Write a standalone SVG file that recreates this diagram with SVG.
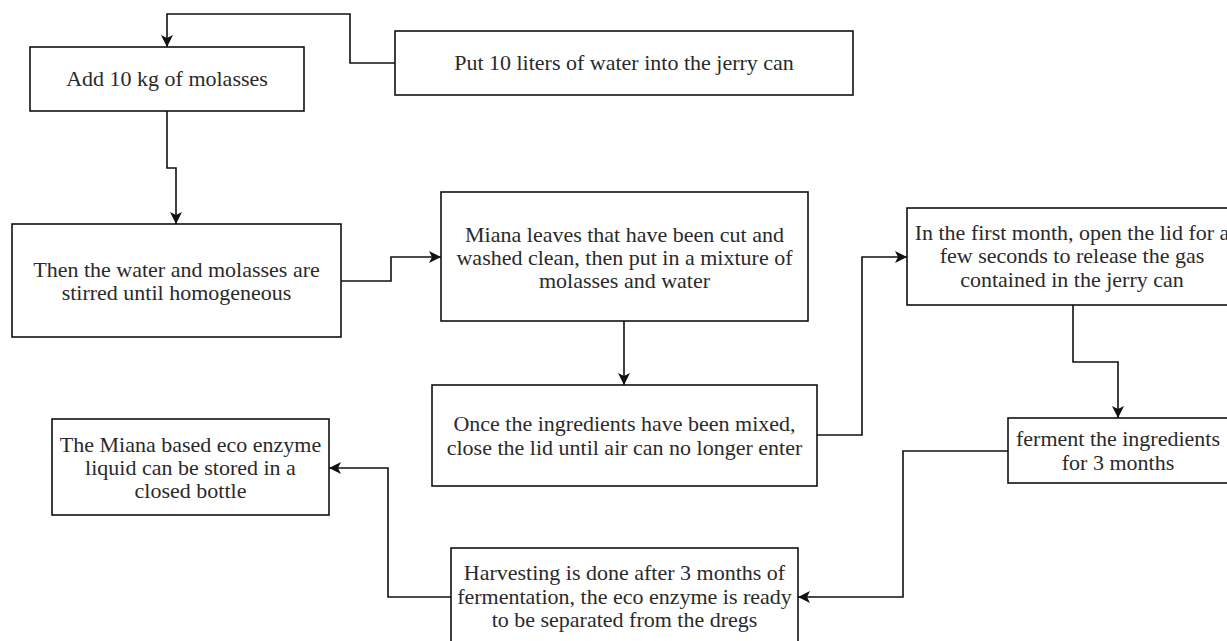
<svg xmlns="http://www.w3.org/2000/svg" width="1227" height="641" viewBox="0 0 1227 641">
<style>
  .box { fill: #ffffff; stroke: #111111; stroke-width: 1.6; }
  .lbl { font-family: "Liberation Serif", "Times New Roman", serif; font-size: 22px; fill: #2a2a2a; text-anchor: middle; }
  .edge { fill: none; stroke: #111111; stroke-width: 1.6; marker-end: url(#arrow); }
</style>
<defs>
  <marker id="arrow" markerUnits="userSpaceOnUse" markerWidth="14" markerHeight="14" viewBox="0 0 14 14" refX="13" refY="7" orient="auto">
    <path d="M1,1 L13,7 L1,13 L4,7 Z" fill="#111111"/>
  </marker>
</defs>
<rect width="1227" height="641" fill="#ffffff"/>

<g id="connectors">
  <path class="edge" d="M395,63 H350 V14 H167 V47"/>
  <path class="edge" d="M167,111 V168 H176 V224"/>
  <path class="edge" d="M341,281 H391 V257 H441"/>
  <path class="edge" d="M624,321 V385"/>
  <path class="edge" d="M817,435 H862 V257 H907"/>
  <path class="edge" d="M1073,305 V362 H1118 V418"/>
  <path class="edge" d="M1008,451 H903 V597 H798"/>
  <path class="edge" d="M451,597 H388 V468 H329"/>
</g>

<g id="node-add-molasses">
  <rect class="box" x="30" y="47" width="274" height="64"/>
  <text class="lbl" x="167" y="86">Add 10 kg of molasses</text>
</g>

<g id="node-put-water">
  <rect class="box" x="395" y="31" width="458" height="64"/>
  <text class="lbl" x="624" y="70">Put 10 liters of water into the jerry can</text>
</g>

<g id="node-stir">
  <rect class="box" x="12" y="224" width="329" height="113"/>
  <text class="lbl" x="176.5" y="277">Then the water and molasses are</text>
  <text class="lbl" x="176.5" y="300">stirred until homogeneous</text>
</g>

<g id="node-miana-leaves">
  <rect class="box" x="441" y="192" width="367" height="129"/>
  <text class="lbl" x="624.5" y="242">Miana leaves that have been cut and</text>
  <text class="lbl" x="624.5" y="265">washed clean, then put in a mixture of</text>
  <text class="lbl" x="624.5" y="288">molasses and water</text>
</g>

<g id="node-close-lid">
  <rect class="box" x="432" y="385" width="385" height="101"/>
  <text class="lbl" x="624.5" y="431">Once the ingredients have been mixed,</text>
  <text class="lbl" x="624.5" y="455">close the lid until air can no longer enter</text>
</g>

<g id="node-first-month">
  <rect class="box" x="907" y="208" width="330" height="97"/>
  <text class="lbl" x="1072" y="240">In the first month, open the lid for a</text>
  <text class="lbl" x="1072" y="263">few seconds to release the gas</text>
  <text class="lbl" x="1072" y="287">contained in the jerry can</text>
</g>

<g id="node-ferment">
  <rect class="box" x="1008" y="418" width="220" height="65"/>
  <text class="lbl" x="1118" y="446">ferment the ingredients</text>
  <text class="lbl" x="1118" y="470">for 3 months</text>
</g>

<g id="node-harvest">
  <rect class="box" x="451" y="548" width="347" height="98"/>
  <text class="lbl" x="624.5" y="580">Harvesting is done after 3 months of</text>
  <text class="lbl" x="624.5" y="604">fermentation, the eco enzyme is ready</text>
  <text class="lbl" x="624.5" y="627">to be separated from the dregs</text>
</g>

<g id="node-store">
  <rect class="box" x="52" y="419" width="277" height="96"/>
  <text class="lbl" x="190.5" y="452">The Miana based eco enzyme</text>
  <text class="lbl" x="190.5" y="475">liquid can be stored in a</text>
  <text class="lbl" x="190.5" y="498">closed bottle</text>
</g>
</svg>
